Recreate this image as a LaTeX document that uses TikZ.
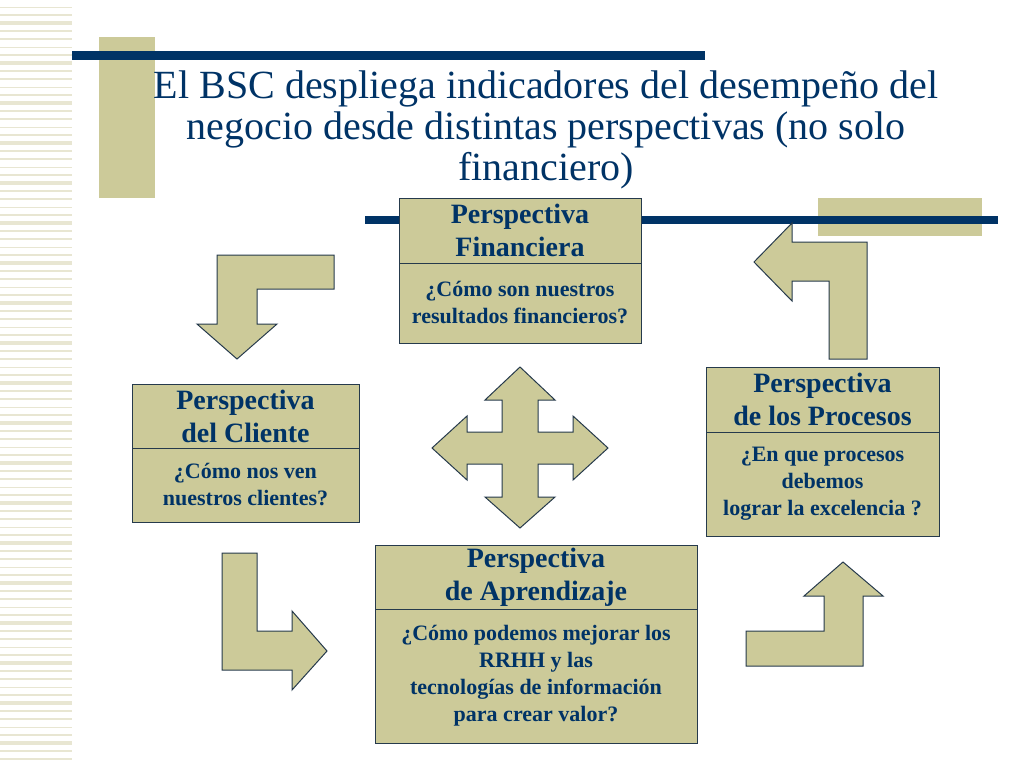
\documentclass[tikz,border=0pt]{standalone}
\usepackage{fontspec}
\setmainfont{Liberation Serif}
\usetikzlibrary{positioning}
\definecolor{navy}{RGB}{0,51,102}
\definecolor{khaki}{RGB}{204,202,153}
\definecolor{boxline}{RGB}{38,58,76}
\definecolor{stripecol}{RGB}{232,230,210}
\tikzset{
perspbox/.style={
    rectangle,
    draw=boxline,
    fill=khaki,
    line width=1pt,
    inner sep=0pt,
    outer sep=0pt,
    align=center,
    text=navy
},
persphead/.style={
    perspbox,
    minimum height=64pt,
    font=\bfseries\fontsize{28}{33}\selectfont
},
perspbody/.style={
    perspbox,
    anchor=north,
    font=\bfseries\fontsize{22}{27}\selectfont
},
blockarrow/.style={
    draw=boxline,
    fill=khaki,
    line width=1pt,
    line join=miter
},
navybar/.style={
    navy,
    line width=9pt
},
stripe/.style={
    stripecol
},
}

\begin{document}
\begin{tikzpicture}[x=1pt,y=-1pt]

\useasboundingbox (0,0) rectangle (1024,768);

% side stripes
\foreach \i in {0,...,94} {
  \pgfmathsetmacro{\w}{0.5+mod(\i*7,5)*0.7}
  \draw [stripe,line width=\w pt] (0,7+\i*8) -- (72,7+\i*8);
}

% decoration
\fill [khaki] (99,37) rectangle (155,198);
\fill [khaki] (818,198) rectangle (982,236);
\draw [navybar] (72,55.5) -- (705,55.5);
\draw [navybar,line width=8pt] (365,220) -- (998,220);

% title
\node (title) [text=navy,align=center,font=\fontsize{40}{41}\selectfont] at (546,130)
  {El BSC despliega indicadores del desempeño del\\negocio desde distintas perspectivas (no solo\\financiero)};

% perspectives
\node (fin) [persphead,minimum width=242pt,minimum height=65pt] at (520,230.5) {Perspectiva\\Financiera};
\node (finq) [perspbody,minimum width=242pt,minimum height=80pt] at (fin.south) {¿Cómo son nuestros\\resultados financieros?};
%
\node (cli) [persphead,minimum width=227pt] at (245.5,416) {Perspectiva\\del Cliente};
\node (cliq) [perspbody,minimum width=227pt,minimum height=74pt] at (cli.south) {¿Cómo nos ven\\nuestros clientes?};
%
\node (proc) [persphead,minimum width=233pt,minimum height=65pt] at (822.5,399.5) {Perspectiva\\de los Procesos};
\node (procq) [perspbody,minimum width=233pt,minimum height=104pt] at (proc.south) {¿En que procesos\\debemos\\lograr la excelencia ?};
%
\node (apr) [persphead,minimum width=322pt] at (536,577) {Perspectiva\\de Aprendizaje};
\node (aprq) [perspbody,minimum width=322pt,minimum height=134pt] at (apr.south) {¿Cómo podemos mejorar los\\RRHH y las\\tecnologías de información\\para crear valor?};

% block arrows
\draw [blockarrow] (217,255) -- (334,255) -- (334,289) -- (257,289) -- (257,324) -- (277,324)
  -- (237,359) -- (197,324) -- (217,324) -- cycle;
\draw [blockarrow] (754,262) -- (792,223) -- (792,242) -- (867,242) -- (867,359) -- (829,359)
  -- (829,281) -- (792,281) -- (792,301) -- cycle;
\draw [blockarrow] (222,553) -- (257,553) -- (257,631) -- (292,631) -- (292,611) -- (327,651)
  -- (292,690) -- (292,670) -- (222,670) -- cycle;
\draw [blockarrow] (746,631) -- (824,631) -- (824,596) -- (804,596) -- (843,562) -- (883,596)
  -- (863,596) -- (863,666) -- (746,666) -- cycle;
\draw [blockarrow] (520,367) -- (555,400) -- (538,400) -- (538,432) -- (573,432) -- (573,416)
  -- (608,448) -- (573,480) -- (573,464) -- (538,464) -- (538,497) -- (555,497)
  -- (520,528) -- (485,497) -- (502,497) -- (502,464) -- (467,464) -- (467,480)
  -- (432,448) -- (467,416) -- (467,432) -- (502,432) -- (502,400) -- (485,400) -- cycle;

\end{tikzpicture}
\end{document}
